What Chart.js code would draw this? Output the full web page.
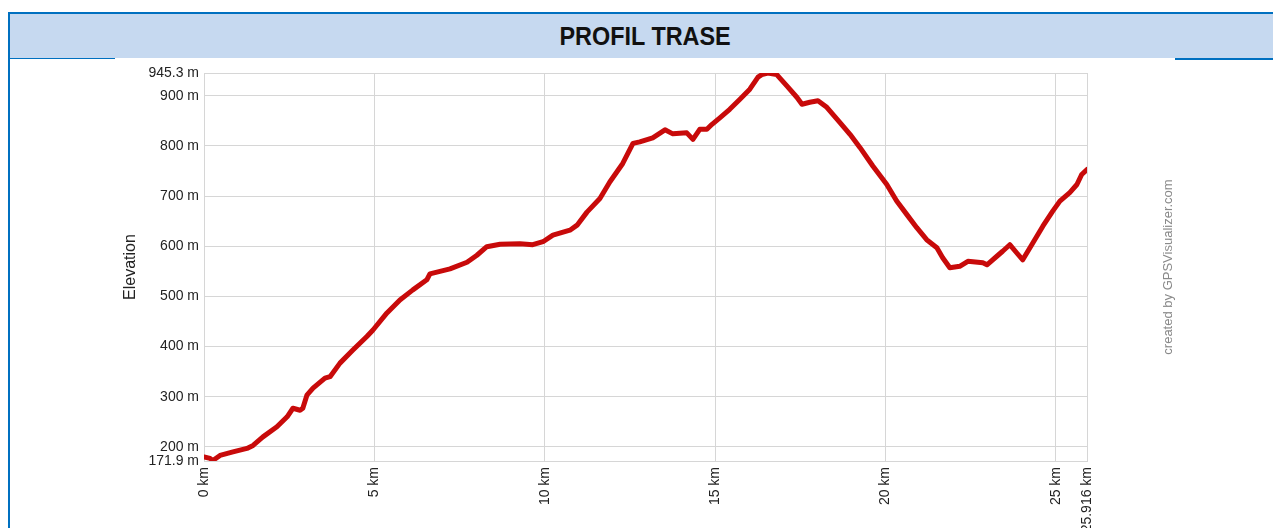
<!DOCTYPE html>
<html>
<head>
<meta charset="utf-8">
<script src="https://cdn.jsdelivr.net/npm/chart.js@4/dist/chart.umd.min.js"></script>
<style>
  html, body { margin: 0; padding: 0; background: #fff; overflow: hidden; width: 1273px; height: 528px; }
  #frame { position: absolute; left: 8px; top: 12px; width: 1271px; height: 600px; border: 2px solid #0070c0; }
  #head { position: absolute; left: 0; top: 0; width: 100%; height: 44px; background: #c6d9f0; border-bottom: 1px solid #0070c0;
          font-family: "Liberation Sans", Arial, sans-serif; font-weight: bold; font-size: 26px;
          line-height: 44px; text-align: center; color: #111; }
  #head span { display: inline-block; transform: scaleX(0.9); }
  #rightLine { position: absolute; left: 1175px; top: 58px; width: 110px; height: 2px; background: #0070c0; }
  #box { position: absolute; left: 115px; top: 58px; width: 1060px; height: 470px; background: #fff; overflow: visible; }
  #chart { position: absolute; left: 0; top: 1px; }
  #credit { position: absolute; left: 1068px; top: 259px; width: 200px; text-align: center; transform: rotate(-90deg);
            font-family: "Liberation Sans", Arial, sans-serif; font-size: 13px; color: #8a8a8a; line-height: 16px; }
</style>
</head>
<body>
<div id="frame"><div id="head"><span>PROFIL TRASE</span></div></div>
<div id="rightLine"></div>
<div id="box"><canvas id="chart" width="1060" height="482"></canvas></div>
<div id="credit">created by GPSVisualizer.com</div>
<script>
// Elevation profile (distance in km, elevation in m)
const distKm = [0.00, 0.18, 0.26, 0.47, 0.85, 1.26, 1.44, 1.73, 2.14, 2.44, 2.61, 2.82, 2.90, 3.02, 3.20, 3.55, 3.70, 3.99,
  4.37, 4.78, 4.96, 5.37, 5.75, 6.13, 6.54, 6.63, 7.22, 7.72, 8.01, 8.30, 8.69, 9.27, 9.65, 9.95, 10.24, 10.74, 10.95,
  11.24, 11.62, 11.91, 12.29, 12.59, 12.79, 13.17, 13.53, 13.76, 14.17, 14.35, 14.55, 14.76, 14.91, 15.14, 15.43, 15.73,
  16.02, 16.26, 16.37, 16.55, 16.81, 17.10, 17.40, 17.55, 17.78, 18.02, 18.28, 18.66, 18.96, 19.25, 19.63, 20.04, 20.33,
  20.63, 20.92, 21.21, 21.51, 21.68, 21.89, 22.18, 22.42, 22.86, 22.98, 23.27, 23.44, 23.65, 23.85, 24.03, 24.33, 24.62,
  24.91, 25.12, 25.41, 25.62, 25.76, 25.916];
const elevM = [180, 177, 173, 183, 190, 197, 203, 220, 240, 260, 277, 273, 277, 303, 317, 337, 340, 367,
  393, 420, 433, 467, 493, 513, 533, 545, 555, 568, 582, 599, 604, 605, 603, 609, 622, 632, 642,
  668, 695, 728, 765, 805, 808, 816, 832, 824, 826, 813, 833, 833, 843, 856, 873, 893,
  913, 937, 942, 945, 942, 920, 897, 883, 887, 890, 877, 847, 823, 797, 760, 723, 690,
  663, 637, 613, 597, 577, 557, 560, 570, 567, 563, 580, 590, 603, 587, 573, 607, 640,
  670, 690, 707, 723, 743, 753];

const xTicks = [0, 5, 10, 15, 20, 25, 25.916];
const xTickLabels = ['0 km', '5 km', '10 km', '15 km', '20 km', '25 km', '25.916 km'];
const yTicks = [171.9, 200, 300, 400, 500, 600, 700, 800, 900, 945.3];
const yTickLabels = ['171.9 m', '200 m', '300 m', '400 m', '500 m', '600 m', '700 m', '800 m', '900 m', '945.3 m'];

const points = distKm.map((d, i) => ({ x: d, y: elevM[i] }));

const tickFont = { family: '"Liberation Sans", Arial, sans-serif', size: 14 };
const gridColor = '#d6d6d6';

const ctx = document.getElementById('chart').getContext('2d');
const profileChart = new Chart(ctx, {
    type: 'line',
    data: {
        datasets: [{
            data: points,
            borderColor: '#c80a0a',
            borderWidth: 5,
            borderJoinStyle: 'round',
            borderCapStyle: 'round',
            pointRadius: 0,
            tension: 0,
            fill: false
        }]
    },
    options: {
        responsive: false,
        animation: false,
        layout: { padding: { left: 0, right: 88, top: 14, bottom: 0 } },
        plugins: {
            legend: { display: false },
            tooltip: { enabled: false }
        },
        scales: {
            x: {
                type: 'linear',
                min: 0,
                max: 25.916,
                afterBuildTicks: scale => { scale.ticks = xTicks.map(v => ({ value: v })); },
                afterFit: scale => { scale.height = 80; },
                grid: { color: gridColor, drawTicks: false },
                border: { color: gridColor },
                ticks: {
                    autoSkip: false,
                    minRotation: 90,
                    maxRotation: 90,
                    padding: 6,
                    color: '#222',
                    font: tickFont,
                    callback: (value, index) => xTickLabels[index]
                }
            },
            y: {
                min: 171.9,
                max: 945.3,
                afterBuildTicks: scale => { scale.ticks = yTicks.map(v => ({ value: v })); },
                afterFit: scale => { scale.width = 89; },
                grid: { color: gridColor, drawTicks: false },
                border: { color: gridColor },
                title: {
                    display: true,
                    text: 'Elevation',
                    color: '#222',
                    padding: { top: 6, bottom: 0 },
                    font: { family: '"Liberation Sans", Arial, sans-serif', size: 16 }
                },
                ticks: {
                    autoSkip: false,
                    padding: 5,
                    color: '#222',
                    font: tickFont,
                    callback: (value, index) => yTickLabels[index]
                }
            }
        }
    }
});
</script>
</body>
</html>
